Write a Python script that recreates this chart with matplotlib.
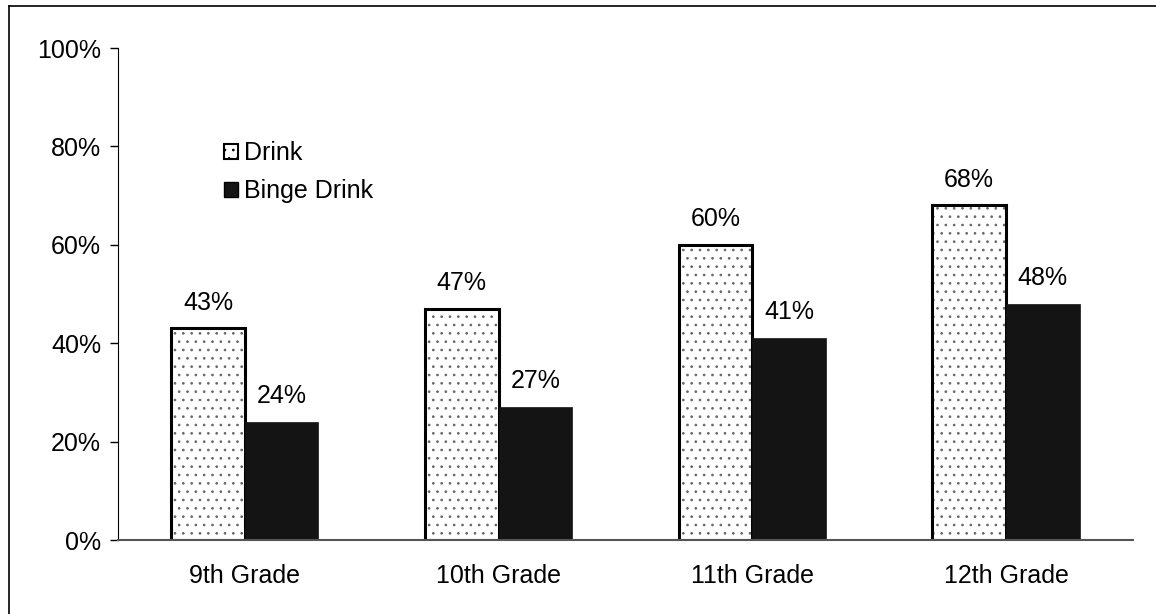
import matplotlib.pyplot as plt
import numpy as np
from matplotlib.lines import Line2D

plt.rcParams['font.family'] = ['Liberation Sans', 'DejaVu Sans']
plt.rcParams['hatch.linewidth'] = 0.7

grades = ['9th Grade', '10th Grade', '11th Grade', '12th Grade']
drink = [43, 47, 60, 68]
binge = [24, 27, 41, 48]

x = np.arange(len(grades))
width = 0.29

fig = plt.figure(figsize=(11.56, 6.14), dpi=100)
ax = fig.add_axes([0.102, 0.1205, 0.878, 0.8013])

# speckled fill first, then the black outline on top
ax.bar(x - width/2, drink, width, facecolor='white', edgecolor='#666666',
       hatch='..', linewidth=0)
b1 = ax.bar(x - width/2, drink, width, facecolor='none', edgecolor='black',
            linewidth=2.2)
b2 = ax.bar(x + width/2, binge, width, facecolor='#141414', edgecolor='#141414',
            linewidth=0.5)

# legend proxies
h1 = plt.Rectangle((0, 0), 1, 1, facecolor='white', edgecolor='black', lw=1.5, hatch='..')
h2 = plt.Rectangle((0, 0), 1, 1, facecolor='#141414', edgecolor='black', lw=1)

for rects, vals in [(b1, drink), (b2, binge)]:
    for r, v in zip(rects, vals):
        ax.annotate(f'{v}%', (r.get_x() + r.get_width()/2, v),
                    xytext=(0, 10), textcoords='offset points',
                    ha='center', va='bottom', fontsize=18)

ax.set_xlim(-0.5, 3.5)
ax.set_ylim(0, 100)
ax.set_yticks(np.arange(0, 101, 20))
ax.set_yticklabels([f'{v}%' for v in range(0, 101, 20)], fontsize=18)
ax.set_xticks(x)
ax.set_xticklabels(grades, fontsize=18)
ax.tick_params(axis='x', length=0, pad=17)
ax.tick_params(axis='y', length=6, width=1, pad=6)

ax.spines['top'].set_visible(False)
ax.spines['right'].set_visible(False)
ax.spines['left'].set_color('black')
ax.spines['bottom'].set_color('#555555')
ax.spines['bottom'].set_linewidth(1.5)

ax.legend([h1, h2], ['Drink', 'Binge Drink'], loc='upper left',
          bbox_to_anchor=(0.105, 0.81), frameon=False,
          fontsize=18, handlelength=0.55, handleheight=0.55,
          handletextpad=0.25, labelspacing=0.55, borderaxespad=0, borderpad=0)

# outer frame
fig.add_artist(Line2D([9/1156, 9/1156], [0, 1 - 6/614], color='black', lw=1.2))
fig.add_artist(Line2D([9/1156, 1], [1 - 6/614, 1 - 6/614], color='black', lw=1.2))

fig.savefig('out.png', dpi=100)
